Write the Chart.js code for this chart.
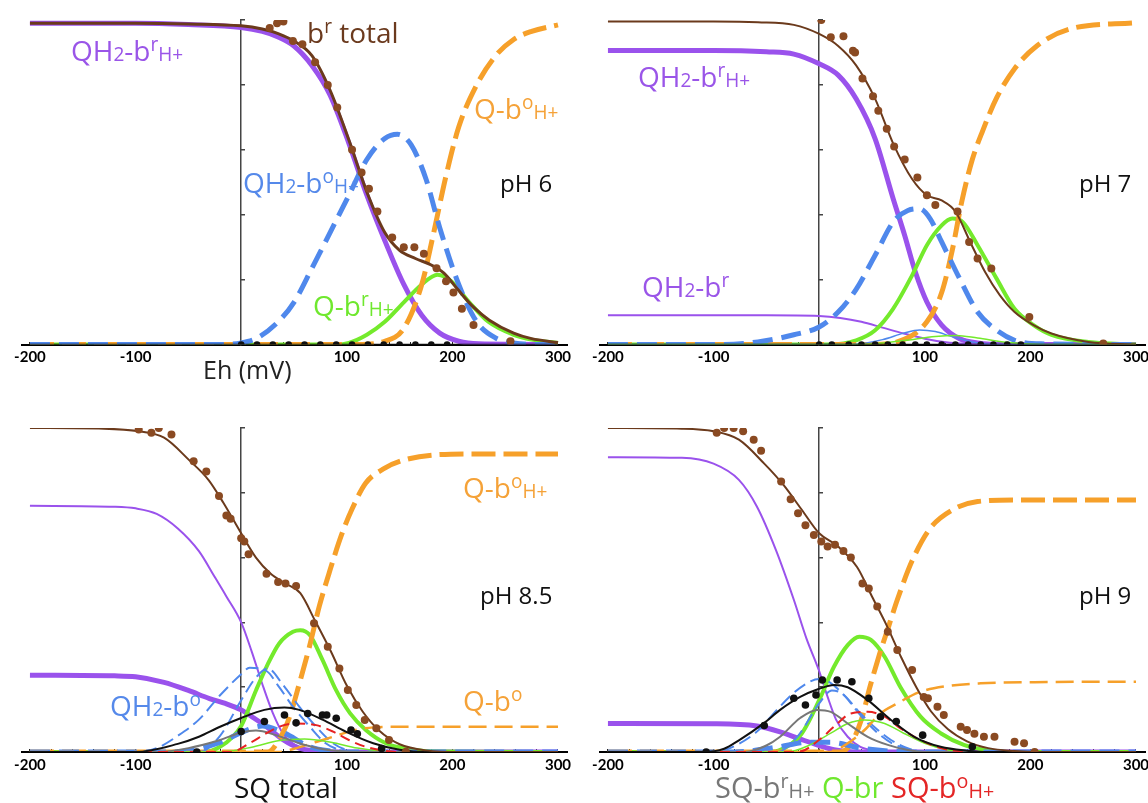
<!DOCTYPE html>
<html>
<head>
<meta charset="utf-8">
<script src="https://cdn.jsdelivr.net/npm/chart.js@4.4.1/dist/chart.umd.min.js"></script>
<style>
html,body{margin:0;padding:0;background:#fff;width:1148px;height:803px;overflow:hidden;position:relative;}
canvas{position:absolute;}
.lbl{position:absolute;font-family:'Open Sans',Lato,sans-serif;line-height:1;white-space:nowrap;}
.s{font-size:0.68em;}
.u{font-size:0.68em;position:relative;top:-0.5em;}
</style>
</head>
<body>
<canvas id="c1" width="600" height="400" style="left:0;top:0"></canvas>
<canvas id="c2" width="600" height="400" style="left:574px;top:0"></canvas>
<canvas id="c3" width="600" height="403" style="left:0;top:400px"></canvas>
<canvas id="c4" width="600" height="403" style="left:574px;top:400px"></canvas>

<div class="lbl" style="left:307px;top:18px;font-size:28px;color:#6b3a1e">b<span class="u">r</span> total</div>
<div class="lbl" style="left:71px;top:36px;font-size:28px;color:#9a55e8">QH<span class="s">2</span>-b<span class="u">r</span><span class="s">H+</span></div>
<div class="lbl" style="left:474px;top:94px;font-size:28px;color:#f5a238">Q-b<span class="u">o</span><span class="s">H+</span></div>
<div class="lbl" style="left:243px;top:168px;font-size:28px;color:#5589ea">QH<span class="s">2</span>-b<span class="u">o</span><span class="s">H+</span></div>
<div class="lbl" style="left:500px;top:171px;font-size:24px;color:#111">pH 6</div>
<div class="lbl" style="left:313px;top:291px;font-size:28px;color:#6fe82e">Q-b<span class="u">r</span><span class="s">H+</span></div>
<div class="lbl" style="left:203px;top:357px;font-size:25px;color:#222">Eh (mV)</div>

<div class="lbl" style="left:638px;top:62px;font-size:28px;color:#9a55e8">QH<span class="s">2</span>-b<span class="u">r</span><span class="s">H+</span></div>
<div class="lbl" style="left:1079px;top:171px;font-size:24px;color:#111">pH 7</div>
<div class="lbl" style="left:642px;top:272px;font-size:28px;color:#9a55e8">QH<span class="s">2</span>-b<span class="u">r</span></div>

<div class="lbl" style="left:463px;top:473px;font-size:28px;color:#f5a238">Q-b<span class="u">o</span><span class="s">H+</span></div>
<div class="lbl" style="left:480px;top:583px;font-size:24px;color:#111">pH 8.5</div>
<div class="lbl" style="left:110px;top:691px;font-size:28px;color:#5589ea">QH<span class="s">2</span>-b<span class="u">o</span></div>
<div class="lbl" style="left:463px;top:686px;font-size:28px;color:#f5a238">Q-b<span class="u">o</span></div>
<div class="lbl" style="left:234px;top:773px;font-size:28px;color:#111">SQ total</div>

<div class="lbl" style="left:1079px;top:583px;font-size:24px;color:#111">pH 9</div>
<div class="lbl" style="left:715px;top:772px;font-size:29px;"><span style="color:#777">SQ-b<span class="u">r</span><span class="s">H+</span></span> <span style="color:#6fe82e">Q-br</span> <span style="color:#e42626">SQ-b<span class="u">o</span><span class="s">H+</span></span></div>

<script>
// ===== pH 6 =====
const P1_TOTAL = [[-200,0.99],[-100,0.99],[-50,0.988],[0,0.982],[20,0.972],[35,0.958],[50,0.935],[67,0.89],[84,0.785],[102,0.63],[119,0.47],[136,0.345],[150,0.29],[165,0.265],[180,0.245],[192,0.22],[205,0.17],[220,0.115],[235,0.075],[258,0.035],[275,0.018],[300,0.006]];
const P1_DOTS = [[27,0.975],[34,0.99],[40,0.995],[49,0.935],[58,0.925],[70,0.87],[82,0.8],[91,0.73],[105,0.6],[114,0.53],[121,0.48],[129,0.41],[143,0.33],[154,0.3],[164,0.3],[173,0.28],[185,0.235],[194,0.195],[201,0.16],[209,0.11],[220,0.06],[255,0.01]];
const P1_SQ_DOTS = [[0,0],[15,0],[30,0],[45,0],[60,0],[75,0],[90,0],[105,0],[120,0],[135,0],[150,0],[165,0],[180,0],[195,0]];
const P1_SQ = [[-200,0],[300,0]];
const P1_QH2_BRH = [[-200,0.99],[-100,0.99],[-50,0.986],[0,0.977],[20,0.965],[35,0.948],[50,0.92],[67,0.86],[84,0.77],[102,0.62],[119,0.46],[136,0.32],[154,0.185],[171,0.09],[188,0.035],[206,0.01],[225,0.002],[300,0]];
const P1_QH2_BOH = [[-200,0],[-20,0],[0,0.005],[15,0.02],[35,0.07],[50,0.13],[67,0.235],[85,0.35],[102,0.46],[119,0.57],[136,0.635],[148,0.648],[161,0.615],[175,0.51],[188,0.36],[206,0.185],[223,0.07],[241,0.02],[258,0.005],[280,0],[300,0]];
const P1_Q_BRH = [[-200,0],[90,0],[102,0.005],[119,0.03],[136,0.07],[154,0.13],[171,0.185],[186,0.215],[199,0.195],[216,0.13],[234,0.07],[258,0.03],[275,0.015],[300,0.005]];
const P1_Q_BOH = [[-200,0],[110,0],[136,0.01],[154,0.05],[171,0.185],[182,0.34],[194,0.52],[206,0.67],[223,0.8],[241,0.89],[258,0.94],[275,0.965],[300,0.985]];

// ===== pH 7 =====
const P2_TOTAL = [[-200,0.995],[-100,0.995],[-58,0.993],[-24,0.985],[0,0.957],[18,0.92],[35,0.86],[53,0.757],[70,0.62],[88,0.51],[102,0.46],[116,0.444],[129,0.41],[143,0.316],[157,0.224],[171,0.152],[185,0.1],[203,0.06],[220,0.034],[255,0.008],[300,0]];
const P2_DOTS = [[2,1.0],[11,0.947],[23,0.95],[32,0.905],[34,0.9],[41,0.82],[51,0.765],[56,0.72],[64,0.665],[71,0.61],[81,0.57],[93,0.515],[102,0.46],[110,0.43],[131,0.41],[142,0.316],[150,0.265],[163,0.234],[199,0.085],[269,0.003]];
const P2_SQ_DOTS = [[0,0],[12,0],[28,0],[40,0],[53,0],[65,0],[79,0],[91,0],[102,0],[116,0],[129,0],[141,0],[153,0],[165,0],[178,0],[191,0]];
const P2_SQ = [[-200,0],[300,0]];
const P2_QH2_BRH = [[-200,0.906],[-100,0.906],[-50,0.902],[-24,0.895],[0,0.865],[18,0.83],[35,0.757],[53,0.634],[70,0.45],[81,0.336],[91,0.224],[102,0.131],[116,0.06],[133,0.018],[150,0.005],[175,0],[300,0]];
const P2_QH2_BR = [[-200,0.09],[-50,0.09],[0,0.088],[20,0.082],[40,0.07],[60,0.052],[80,0.034],[100,0.018],[120,0.007],[140,0.002],[160,0],[300,0]];
const P2_QH2_BOH = [[-200,0],[-90,0],[-58,0.008],[-24,0.03],[0,0.054],[18,0.1],[35,0.17],[53,0.275],[70,0.377],[84,0.413],[95,0.418],[105,0.388],[116,0.316],[133,0.203],[150,0.1],[168,0.044],[185,0.013],[210,0.002],[300,0]];
const P2_QH2_BO = [[-200,0],[30,0],[60,0.015],[80,0.035],[95,0.045],[110,0.04],[125,0.025],[145,0.008],[170,0],[300,0]];
const P2_Q_BRH = [[-200,0],[10,0],[35,0.013],[53,0.044],[70,0.11],[88,0.213],[102,0.306],[116,0.367],[126,0.388],[136,0.377],[150,0.306],[168,0.203],[185,0.11],[203,0.06],[220,0.03],[255,0.008],[300,0]];
const P2_Q_BR = [[-200,0],[40,0],[80,0.012],[110,0.025],[130,0.028],[150,0.02],[180,0.006],[210,0],[300,0]];
const P2_Q_BOH = [[-200,0],[50,0],[74,0.008],[102,0.07],[116,0.16],[126,0.29],[135,0.44],[145,0.57],[155,0.66],[168,0.76],[185,0.85],[206,0.92],[237,0.972],[300,0.992]];

// ===== pH 8.5 =====
const P3_TOTAL = [[-200,1.0],[-130,0.998],[-97,0.99],[-73,0.97],[-49,0.9],[-31,0.84],[-17,0.77],[0,0.675],[14,0.6],[28,0.55],[42,0.52],[56,0.49],[70,0.405],[85,0.31],[100,0.205],[115,0.125],[130,0.068],[150,0.024],[175,0.005],[210,0],[300,0]];
const P3_DOTS = [[-97,0.995],[-85,0.985],[-78,1.0],[-66,0.98],[-45,0.897],[-33,0.866],[-21,0.79],[-14,0.73],[-10,0.72],[0,0.66],[3,0.65],[7,0.61],[24,0.55],[35,0.525],[42,0.52],[52,0.512],[69,0.397],[82,0.325],[93,0.258],[101,0.191],[109,0.145],[117,0.099],[128,0.073],[140,0.037],[156,0.001]];
const P3_SQ_DOTS = [[-42,0],[0,0.063],[22,0.094],[41,0.114],[52,0.09],[63,0.119],[77,0.114],[81,0.114],[90,0.104],[104,0.068],[110,0.056],[133,0.011]];
const P3_SQ = [[-200,0],[-100,0],[-60,0.025],[-40,0.047],[-20,0.078],[0,0.105],[22,0.13],[41,0.137],[55,0.13],[77,0.1],[99,0.063],[125,0.027],[150,0.007],[175,0],[300,0]];
const P3_SQ_BRH = [[-200,0],[-80,0],[-50,0.012],[-20,0.037],[0,0.06],[14,0.066],[33,0.052],[55,0.027],[74,0.011],[95,0.002],[120,0],[300,0]];
const P3_SQ_BOH = [[-200,0],[-10,0],[8,0.027],[24,0.058],[36,0.078],[52,0.088],[71,0.083],[87,0.063],[102,0.037],[118,0.016],[135,0.004],[150,0],[300,0]];
const P3_QH2_BRH = [[-200,0.237],[-120,0.235],[-100,0.232],[-73,0.215],[-50,0.19],[-30,0.165],[-15,0.15],[0,0.13],[12,0.105],[24,0.078],[40,0.037],[55,0.012],[70,0.003],[90,0],[300,0]];
const P3_QH2_BR = [[-200,0.76],[-120,0.757],[-100,0.752],[-80,0.735],[-60,0.69],[-40,0.62],[-25,0.54],[-14,0.48],[0,0.4],[10,0.31],[20,0.21],[30,0.12],[40,0.055],[55,0.014],[70,0.003],[90,0],[300,0]];
const P3_QH2_BOH = [[-200,0],[-60,0],[-20,0.03],[0,0.06],[20,0.08],[40,0.06],[65,0.016],[85,0.003],[100,0],[300,0]];
const P3_QH2_BO_A = [[-200,0],[-100,0],[-80,0.012],[-60,0.05],[-40,0.1],[-20,0.175],[0,0.24],[8,0.26],[24,0.25],[36,0.2],[49,0.14],[65,0.078],[80,0.027],[95,0.005],[110,0],[300,0]];
const P3_QH2_BO_B = [[-200,0],[-40,0],[-20,0.05],[0,0.16],[14,0.23],[25,0.258],[39,0.21],[55,0.14],[71,0.078],[87,0.027],[100,0.006],[115,0],[300,0]];
const P3_Q_BRH = [[-200,0],[-35,0],[-20,0.016],[-8,0.047],[0,0.08],[14,0.19],[24,0.263],[36,0.335],[49,0.371],[56,0.376],[65,0.361],[77,0.284],[90,0.19],[103,0.12],[118,0.068],[137,0.027],[156,0.011],[180,0.002],[300,0]];
const P3_Q_BR = [[-200,0],[-20,0],[10,0.015],[35,0.035],[60,0.04],[85,0.03],[110,0.012],[135,0.002],[160,0],[300,0]];
const P3_Q_BOH = [[-200,0],[25,0],[38,0.05],[46,0.11],[55,0.21],[65,0.33],[74,0.45],[84,0.56],[95,0.67],[105,0.75],[118,0.83],[136,0.876],[153,0.9],[188,0.918],[223,0.92],[300,0.92]];
const P3_Q_BO = [[-200,0],[35,0],[50,0.01],[70,0.03],[87,0.047],[102,0.063],[125,0.076],[150,0.078],[300,0.078]];

// ===== pH 9 =====
const P4_TOTAL = [[-200,1.0],[-130,0.998],[-100,0.99],[-76,0.964],[-52,0.89],[-34,0.825],[-17,0.75],[0,0.675],[18,0.634],[36,0.57],[50,0.48],[64,0.39],[78,0.29],[92,0.2],[106,0.125],[122,0.07],[140,0.033],[160,0.012],[185,0.003],[210,0],[300,0]];
const P4_DOTS = [[-97,0.985],[-90,1.0],[-81,1.0],[-72,0.99],[-62,0.964],[-55,0.93],[-36,0.835],[-27,0.78],[-20,0.737],[-13,0.7],[-5,0.67],[2,0.65],[8,0.634],[15,0.64],[23,0.62],[30,0.6],[41,0.52],[47,0.505],[55,0.449],[65,0.371],[74,0.315],[88,0.253],[99,0.17],[103,0.166],[112,0.14],[118,0.114],[134,0.078],[140,0.068],[147,0.056],[156,0.047],[166,0.047],[185,0.032],[194,0.027],[204,0]];
const P4_SQ_DOTS = [[-107,0],[-52,0.082],[-24,0.166],[-13,0.145],[-3,0.176],[3,0.222],[17,0.222],[31,0.217],[47,0.166],[58,0.109],[73,0.094],[98,0.052],[145,0.016]];
const P4_SQ = [[-200,0],[-110,0],[-90,0.01],[-76,0.036],[-52,0.09],[-37,0.13],[-18,0.17],[0,0.195],[14,0.207],[27,0.2],[46,0.16],[68,0.099],[90,0.047],[115,0.016],[140,0.004],[160,0],[300,0]];
const P4_SQ_BRH = [[-200,0],[-70,0],[-50,0.02],[-37,0.047],[-18,0.105],[-2,0.13],[11,0.124],[27,0.088],[46,0.047],[65,0.022],[84,0.006],[100,0],[300,0]];
const P4_SQ_BOH = [[-200,0],[-20,0],[1,0.04],[14,0.078],[30,0.119],[46,0.124],[62,0.109],[77,0.073],[96,0.037],[115,0.012],[135,0.002],[150,0],[300,0]];
const P4_QH2_BRH = [[-200,0.088],[-100,0.087],[-59,0.08],[-37,0.062],[-18,0.04],[0,0.02],[14,0.007],[30,0.001],[50,0],[300,0]];
const P4_QH2_BR = [[-200,0.91],[-130,0.908],[-100,0.89],[-76,0.84],[-59,0.758],[-41,0.624],[-24,0.47],[-12,0.35],[0,0.25],[8,0.17],[16,0.1],[27,0.047],[39,0.016],[55,0.004],[75,0],[300,0]];
const P4_QH2_BOH = [[-200,0],[-80,0],[-40,0.015],[-10,0.03],[10,0.03],[40,0.012],[70,0.002],[90,0],[300,0]];
const P4_QH2_BO_A = [[-200,0],[-100,0],[-90,0.005],[-60,0.06],[-40,0.13],[-25,0.18],[-10,0.215],[0,0.225],[10,0.215],[25,0.17],[40,0.11],[55,0.06],[70,0.025],[90,0.005],[110,0],[300,0]];
const P4_QH2_BO_B = [[-200,0],[-40,0],[-20,0.05],[0,0.15],[12,0.19],[22,0.18],[36,0.13],[52,0.078],[68,0.037],[85,0.01],[100,0],[300,0]];
const P4_Q_BRH = [[-200,0],[-50,0],[-38,0.005],[-17,0.055],[0,0.16],[14,0.263],[27,0.33],[38,0.356],[49,0.346],[62,0.294],[77,0.2],[96,0.109],[115,0.058],[137,0.022],[160,0.005],[185,0],[300,0]];
const P4_Q_BR = [[-200,0],[-30,0],[-10,0.02],[11,0.058],[27,0.088],[43,0.099],[62,0.088],[80,0.058],[100,0.027],[122,0.006],[140,0],[300,0]];
const P4_Q_BOH = [[-200,0],[20,0],[30,0.025],[40,0.1],[48,0.2],[57,0.3],[66,0.39],[74,0.47],[88,0.59],[105,0.69],[126,0.747],[150,0.773],[185,0.778],[300,0.778]];
const P4_Q_BO = [[-200,0],[10,0],[27,0.027],[43,0.068],[58,0.119],[74,0.15],[96,0.186],[122,0.204],[153,0.212],[216,0.216],[300,0.217]];

// axis settings
const X_MIN = -208, X_MAX = 309, X_STEP = 20;
const Y_MIN = 0, Y_MAX = 1, Y_STEP = 0.2;

// colours
const C = {
  brown:'#6b3a1c', brownDot:'#8a4a22', black:'#111111', purple:'#9a52ec', blue:'#4f88ec',
  orange:'#f6a02a', green:'#74ea2c', red:'#e62222', gray:'#777777'
};

function pts(a){ return a.map(p => ({x:p[0], y:p[1]})); }
function L(a, color, width, dash){
  return {data:pts(a), showLine:true, borderColor:color, backgroundColor:color, borderWidth:width,
    borderDash:dash||[], pointRadius:0, pointHoverRadius:0, fill:false, cubicInterpolationMode:'monotone'};
}
function D(a, color, r){
  return {data:pts(a), showLine:false, pointRadius:r, pointHoverRadius:r, backgroundColor:color,
    borderColor:color, pointBorderWidth:0, borderWidth:0};
}

Chart.defaults.font.family = 'Lato';

function makeChart(id, datasets, pad){
  return new Chart(document.getElementById(id), {
    type:'scatter',
    data:{datasets},
    options:{
      responsive:false, animation:false, events:[],
      layout:{padding:pad},
      plugins:{legend:{display:false}, tooltip:{enabled:false}},
      scales:{
        x:{type:'linear', min:X_MIN, max:X_MAX, position:{y:0},
          ticks:{stepSize:X_STEP, includeBounds:false, autoSkip:false, maxRotation:0, padding:8, color:'#000',
            font:{family:'Lato', weight:'bold', size:15},
            callback:(v)=> (v % 100 === 0 && v !== 0) ? String(v) : ''},
          grid:{drawOnChartArea:false, drawTicks:true, tickLength:-4, color:'#222', lineWidth:1},
          border:{color:'#000', width:2}},
        y:{type:'linear', min:Y_MIN, max:Y_MAX, position:{x:0},
          ticks:{stepSize:Y_STEP, display:false},
          grid:{drawOnChartArea:false, drawTicks:true, tickLength:-5, color:'#444', lineWidth:1.5},
          border:{color:'#444', width:1.5}}
      }
    }
  });
}

const THICK_DASH_O = [24,8], THICK_DASH_B = [20,9], THIN_DASH_B = [13,6], THIN_DASH_O = [18,8], RED_DASH = [10,6];

makeChart('c1', [
  D(P1_DOTS, C.brownDot, 4),
  D(P1_SQ_DOTS, C.black, 3.3),
  L(P1_TOTAL, C.brown, 3),
  L(P1_SQ, C.black, 1.5),
  L(P1_QH2_BOH, C.blue, 5, THICK_DASH_B),
  L(P1_Q_BOH, C.orange, 5, THICK_DASH_O),
  L(P1_Q_BRH, C.green, 4),
  L(P1_QH2_BRH, C.purple, 5)
], {left:21.5, right:32.5, top:20, bottom:55.5});

makeChart('c2', [
  D(P2_DOTS, C.brownDot, 4),
  D(P2_SQ_DOTS, C.black, 3.3),
  L(P2_TOTAL, C.brown, 2),
  L(P2_SQ, C.black, 1.5),
  L(P2_Q_BR, C.green, 1.5),
  L(P2_QH2_BO, C.blue, 1.5),
  L(P2_QH2_BOH, C.blue, 5, THICK_DASH_B),
  L(P2_Q_BOH, C.orange, 5, THICK_DASH_O),
  L(P2_Q_BRH, C.green, 4),
  L(P2_QH2_BR, C.purple, 2),
  L(P2_QH2_BRH, C.purple, 5)
], {left:25.5, right:28.5, top:20, bottom:55.5});

makeChart('c3', [
  D(P3_DOTS, C.brownDot, 4),
  D(P3_SQ_DOTS, C.black, 3.8),
  L(P3_TOTAL, C.brown, 2),
  L(P3_SQ, C.black, 2),
  L(P3_SQ_BOH, C.red, 2, RED_DASH),
  L(P3_SQ_BRH, C.gray, 2),
  L(P3_Q_BR, C.green, 1.5),
  L(P3_Q_BO, C.orange, 2.5, THIN_DASH_O),
  L(P3_QH2_BO_A, C.blue, 2, THIN_DASH_B),
  L(P3_QH2_BO_B, C.blue, 2, THIN_DASH_B),
  L(P3_QH2_BOH, C.blue, 5, THICK_DASH_B),
  L(P3_Q_BOH, C.orange, 5, THICK_DASH_O),
  L(P3_Q_BRH, C.green, 4),
  L(P3_QH2_BR, C.purple, 2),
  L(P3_QH2_BRH, C.purple, 5)
], {left:21.5, right:32.5, top:28, bottom:51});

makeChart('c4', [
  D(P4_DOTS, C.brownDot, 4),
  D(P4_SQ_DOTS, C.black, 3.8),
  L(P4_TOTAL, C.brown, 2),
  L(P4_SQ, C.black, 2),
  L(P4_SQ_BOH, C.red, 2, RED_DASH),
  L(P4_SQ_BRH, C.gray, 2),
  L(P4_Q_BR, C.green, 1.5),
  L(P4_Q_BO, C.orange, 2.5, THIN_DASH_O),
  L(P4_QH2_BO_A, C.blue, 2, THIN_DASH_B),
  L(P4_QH2_BO_B, C.blue, 2, THIN_DASH_B),
  L(P4_QH2_BOH, C.blue, 5, THICK_DASH_B),
  L(P4_Q_BOH, C.orange, 5, THICK_DASH_O),
  L(P4_Q_BRH, C.green, 4),
  L(P4_QH2_BR, C.purple, 2),
  L(P4_QH2_BRH, C.purple, 5)
], {left:25.5, right:28.5, top:28, bottom:51});
</script>
</body>
</html>
